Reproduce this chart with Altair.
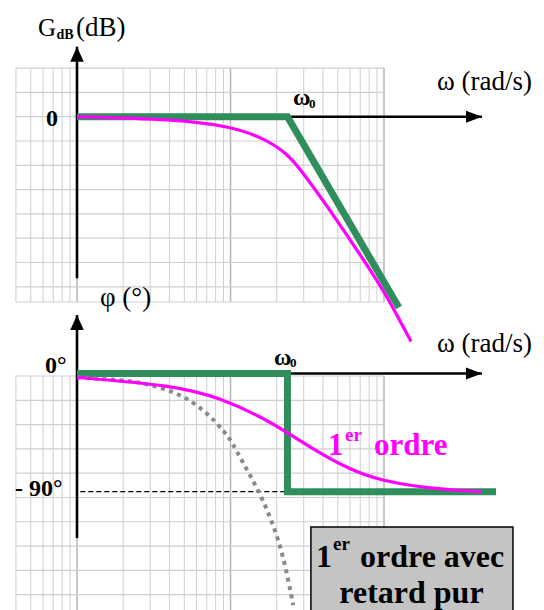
import altair as alt
import pandas as pd

SERIF = "Liberation Serif, Times New Roman, Times, serif"
GREEN = "#2f8e5c"
MAGENTA = "#ff00ff"

# ---------------- data ----------------
# log paper: vertical lines (rad/s)
grid_minor_w = [0.4, 0.5, 0.6, 0.7, 0.8, 0.9,
                2, 3, 4, 5, 6, 7, 8, 9,
                20, 30, 40, 50, 60, 70, 80, 90]
grid_major_w = [1, 10, 100]
# horizontal lines of the gain paper (dB) and of the phase paper (deg)
gain_rows = [4, 2, 0, -2, -4, -6, -8, -10, -12, -14, -15.25]
phase_rows = [-1.9, -20.4, -38.9, -57.4, -75.9, -94.4, -112.9, -131.4, -149.9, -168.4]
gain_paper = [4, -15.25]
phase_paper = [-1.9, -181]
paper_w = [0.4, 100]

w0 = 23.5

# gain: asymptotic diagram
gain_asym_w = [1, w0, 125]
gain_asym_db = [0, 0, -15.7]
# gain: real first-order curve
gain_w = [1, 4.25, 10, 16, 23.5, 30, 44, 67, 96, 120, 150]
gain_db = [0, -0.2, -0.8, -1.7, -3.0, -4.7, -7.6, -11.0, -14.0, -16.2, -18.5]

# phase: asymptotic diagram
phase_asym_w = [1, w0, w0, 537]
phase_asym_deg = [0, 0, -90, -90]
# phase: real first-order curve
phase_w = [1, 4.25, 8.8, 16.4, 23.5, 34, 57, 96, 210, 435]
phase_deg = [-3, -9, -19, -34, -45, -57, -72, -82, -88, -90]
# phase: first order with pure delay
delay_w = [1, 2.0, 2.8, 4.72, 7.15, 9.28, 10.2, 12.1, 15.2, 18.5, 21.5, 23.8, 25.6]
delay_deg = [-3, -5, -7.5, -15.1, -30.3, -45.5, -51.9, -68.4, -88.7, -111.5,
             -134.4, -157.2, -176.3]

# axes (value ranges of the drawn arrows)
gain_axis_db = [5.76, -13.3]
phase_axis_deg = [44.5, -125.3]
freq_axis_w = [1, 435]
minus90_w = [1.05, w0]

# annotation box (rad/s, deg)
box_w = [33.4, 692]
box_deg = [-116.9, -185]

# ---------------- scales ----------------
X = alt.Scale(type="log", domain=[0.315, 1102.4], nice=False)
YG = alt.Scale(domain=[-40.60, 9.605], nice=False, zero=False)
YP = alt.Scale(domain=[-180.08, 284.40], nice=False, zero=False)


def xq(f):
    return alt.X(f"{f}:Q", scale=X, axis=None)


def yq(f, sc):
    return alt.Y(f"{f}:Q", scale=sc, axis=None)


def vrules(ws, span, sc, color, width):
    df = pd.DataFrame({"w": ws, "lo": span[0], "hi": span[1]})
    return alt.Chart(df).mark_rule(color=color, strokeWidth=width).encode(
        x=xq("w"), y=yq("lo", sc), y2="hi:Q")


def hrules(vals, sc, color, width, xs=paper_w, dash=None):
    df = pd.DataFrame({"v": vals, "a": xs[0], "b": xs[1]})
    kw = dict(color=color, strokeWidth=width)
    if dash:
        kw["strokeDash"] = dash
    return alt.Chart(df).mark_rule(**kw).encode(
        x=xq("a"), x2="b:Q", y=yq("v", sc))


def curve(ws, vs, sc, color, width, interp="linear", dash=None, cap="butt"):
    df = pd.DataFrame({"w": ws, "v": vs, "i": range(len(ws))})
    kw = dict(color=color, strokeWidth=width, interpolate=interp,
              strokeCap=cap, strokeJoin="miter")
    if dash:
        kw["strokeDash"] = dash
    return alt.Chart(df).mark_line(**kw).encode(
        x=xq("w"), y=yq("v", sc), order="i:Q")


def arrow_head(w, v, sc, shape, size):
    df = pd.DataFrame({"w": [w], "v": [v]})
    return alt.Chart(df).mark_point(shape=shape, size=size, filled=True,
                                    color="black", opacity=1, strokeWidth=0).encode(
        x=xq("w"), y=yq("v", sc))


def label(texts, ws, vs, sc, size, weight="normal", color="black", align="left"):
    df = pd.DataFrame({"t": texts, "w": ws, "v": vs})
    return alt.Chart(df).mark_text(font=SERIF, fontSize=size, fontWeight=weight,
                                   color=color, align=align,
                                   baseline="alphabetic").encode(
        x=xq("w"), y=yq("v", sc), text="t:N")


UP = "M0,0L-0.9,2L0.9,2Z"
RIGHT = "M0,0L-2,-0.75L-2,0.75Z"

layers = [
    # log paper, gain
    vrules(grid_minor_w, gain_paper, YG, "#cfcfcf", 1),
    vrules(grid_major_w, gain_paper, YG, "#b5b5b5", 1.5),
    hrules(gain_rows, YG, "#cfcfcf", 1.2),
    # log paper, phase
    vrules(grid_minor_w, phase_paper, YP, "#cfcfcf", 1),
    vrules(grid_major_w, phase_paper, YP, "#b5b5b5", 1.5),
    hrules(phase_rows, YP, "#cfcfcf", 1.2),
    # axes
    vrules([1], gain_axis_db, YG, "black", 2.6),
    hrules([0], YG, "black", 2.6, xs=freq_axis_w),
    vrules([1], phase_axis_deg, YP, "black", 2.6),
    hrules([0], YP, "black", 2.6, xs=freq_axis_w),
    hrules([-90], YP, "black", 1.2, xs=minus90_w, dash=[5, 3]),
    arrow_head(1, gain_axis_db[0], YG, UP, 225),
    arrow_head(1, phase_axis_deg[0], YP, UP, 225),
    arrow_head(freq_axis_w[1], 0, YG, RIGHT, 256),
    arrow_head(freq_axis_w[1], 0, YP, RIGHT, 256),
    # gain curves
    curve(gain_asym_w, gain_asym_db, YG, GREEN, 7),
    curve(gain_w, gain_db, YG, MAGENTA, 3.2, interp="basis"),
    # phase curves
    curve(phase_asym_w, phase_asym_deg, YP, GREEN, 7),
    curve(delay_w, delay_deg, YP, "#8a8a8a", 4, interp="basis", dash=[4, 4.5]),
    curve(phase_w, phase_deg, YP, MAGENTA, 3.2, interp="basis"),
    # annotation box
    alt.Chart(pd.DataFrame({"a": [box_w[0]], "b": [box_w[1]],
                            "lo": [box_deg[0]], "hi": [box_deg[1]]}))
    .mark_rect(fill="#c4c4c4", stroke="black", strokeWidth=1.5)
    .encode(x=xq("a"), x2="b:Q", y=yq("lo", YP), y2="hi:Q"),
    # gain labels
    label(["G"], [0.557], [6.64], YG, 25),
    label(["dB"], [0.735], [6.40], YG, 14, weight="bold"),
    label(["(dB)"], [0.985], [6.64], YG, 27),
    label(["0"], [0.687], [-0.8], YG, 24, weight="bold", align="center"),
    label(["ω"], [25.5], [0.95], YG, 24, weight="bold"),
    label(["0"], [32.5], [0.7], YG, 13, weight="bold"),
    label(["ω (rad/s)"], [221.5], [2.2], YG, 27),
    # phase labels
    label(["φ (°)"], [1.412], [51.4], YP, 27),
    label(["0°"], [0.619], [0.15], YP, 24, weight="bold"),
    label(["- 90°"], [0.395], [-93.3], YP, 24, weight="bold"),
    label(["ω"], [19.2], [6.5], YP, 24, weight="bold"),
    label(["0"], [24.4], [4.9], YP, 13, weight="bold"),
    label(["ω (rad/s)"], [221.5], [16.75], YP, 27),
    label(["1"], [43.2], [-62], YP, 31, weight="bold", color=MAGENTA),
    label(["er"], [55.7], [-51.4], YP, 19, weight="bold", color=MAGENTA),
    label(["ordre"], [86.1], [-62], YP, 31, weight="bold", color=MAGENTA),
    label(["1"], [36.1], [-147.3], YP, 32, weight="bold"),
    label(["er"], [46.5], [-134.5], YP, 19, weight="bold"),
    label(["ordre avec"], [69.8], [-147.3], YP, 32, weight="bold"),
    label(["retard pur"], [151], [-174.7], YP, 32, weight="bold", align="center"),
]

chart = (
    alt.layer(*layers)
    .resolve_scale(y="independent")
    .properties(width=544, height=610, padding=0,
                autosize=alt.AutoSizeParams(type="none"), background="white")
    .configure_view(stroke=None)
)

chart.save("out.html", embed_options={"renderer": "svg", "actions": False})
